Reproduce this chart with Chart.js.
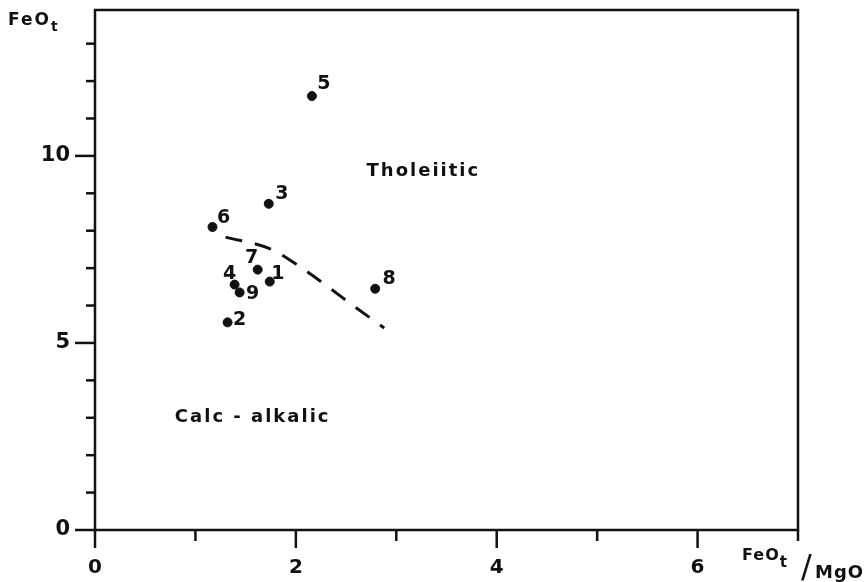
<!DOCTYPE html>
<html lang="en">
<head>
    <meta charset="UTF-8">
    <title>FeOt vs FeOt/MgO</title>
    <script src="https://cdn.jsdelivr.net/npm/chart.js@4/dist/chart.umd.min.js"></script>
    <style>
        body {margin: 0; background: white;}
        canvas {display: block;}
    </style>
</head>
<body>
<canvas id="chart" width="868" height="582"></canvas>
<script>

    // samples
    const sampleIds = ['1', '2', '3', '4', '5', '6', '7', '8', '9'];
    const feoMgoRatio = [1.74, 1.32, 1.73, 1.39, 2.16, 1.17, 1.62, 2.79, 1.44];
    const feoTotal = [6.64, 5.55, 8.72, 6.56, 11.6, 8.1, 6.96, 6.45, 6.35];

    // tholeiitic / calc-alkalic divide
    const boundaryX = [1.30, 1.75, 2.05, 2.33, 2.56, 2.88];
    const boundaryY = [7.83, 7.51, 7.02, 6.48, 6.02, 5.40];

    const xTickLabels = [0, 2, 4, 6];
    const yTickLabels = [0, 5, 10];

    const fieldNames = ['Tholeiitic', 'Calc - alkalic'];
    const fieldX = [3.27, 1.57];
    const fieldY = [9.6, 3.0];

    // where each sample number sits relative to its dot (px)
    const labelOffsets = {
        '1': [8, -8], '2': [12, -2], '3': [13, -10], '4': [-5, -11], '5': [12, -12],
        '6': [11, -9], '7': [-6, -12], '8': [14, -10], '9': [13, 2]
    };

    const FONT = '"DejaVu Sans", sans-serif';
    const INK = '#111';

    const annotate = {
        id: 'annotate',
        afterDraw(chart) {
            const {ctx, chartArea: a, scales: {x, y}} = chart;
            ctx.save();
            ctx.strokeStyle = INK;
            ctx.fillStyle = INK;

            // frame
            ctx.lineWidth = 2.5;
            ctx.strokeRect(a.left, a.top, a.right - a.left, a.bottom - a.top);

            // tick marks
            for (let v = 0; v <= 7; v++) {
                const px = x.getPixelForValue(v);
                const len = xTickLabels.includes(v) ? 18 : 11;
                ctx.beginPath();
                ctx.moveTo(px, a.bottom);
                ctx.lineTo(px, a.bottom + len);
                ctx.stroke();
            }
            for (let v = 0; v <= 13; v++) {
                const py = y.getPixelForValue(v);
                const len = yTickLabels.includes(v) ? 20 : 9;
                ctx.beginPath();
                ctx.moveTo(a.left - len, py);
                ctx.lineTo(a.left, py);
                ctx.stroke();
            }

            // sample numbers
            ctx.font = 'bold 19px ' + FONT;
            ctx.textAlign = 'center';
            ctx.textBaseline = 'middle';
            sampleIds.forEach((id, i) => {
                const off = labelOffsets[id];
                ctx.fillText(id, x.getPixelForValue(feoMgoRatio[i]) + off[0],
                    y.getPixelForValue(feoTotal[i]) + off[1]);
            });

            // field names
            ctx.font = 'bold 18px ' + FONT;
            ctx.letterSpacing = '2px';
            fieldNames.forEach((name, i) => {
                ctx.fillText(name, x.getPixelForValue(fieldX[i]), y.getPixelForValue(fieldY[i]));
            });

            // axis titles
            ctx.textAlign = 'left';
            ctx.textBaseline = 'alphabetic';
            ctx.font = 'bold 17px ' + FONT;
            ctx.fillText('FeO', 8, 25);
            let w = ctx.measureText('FeO').width;
            ctx.font = 'bold 14px ' + FONT;
            ctx.fillText('t', 8 + w, 31);
            ctx.letterSpacing = '1px';

            ctx.font = 'bold 16px ' + FONT;
            ctx.fillText('FeO', 742, 560);
            w = ctx.measureText('FeO').width;
            ctx.font = 'bold 15px ' + FONT;
            ctx.fillText('t', 742 + w, 567);
            ctx.letterSpacing = '0px';
            ctx.font = '32px ' + FONT;
            ctx.fillText('/', 801, 577);
            ctx.letterSpacing = '1px';
            ctx.font = 'bold 18px ' + FONT;
            ctx.fillText('MgO', 815, 578);
            ctx.restore();
        }
    };

    const chart = new Chart('chart', {
        type: 'scatter',
        data: {
            datasets: [
                {
                    label: 'Samples',
                    data: feoMgoRatio.map((v, i) => ({x: v, y: feoTotal[i]})),
                    backgroundColor: INK,
                    borderColor: INK,
                    pointRadius: 4.5,
                },
                {
                    label: 'Boundary',
                    data: boundaryX.map((v, i) => ({x: v, y: boundaryY[i]})),
                    showLine: true,
                    borderColor: INK,
                    borderWidth: 3,
                    borderDash: [17, 13],
                    pointRadius: 0,
                    cubicInterpolationMode: 'monotone',
                }
            ]
        },
        options: {
            responsive: false,
            animation: false,
            events: [],
            layout: {padding: {top: 10, right: 70, left: 0, bottom: 0}},
            plugins: {legend: {display: false}, tooltip: {enabled: false}},
            scales: {
                x: {
                    type: 'linear',
                    min: 0,
                    max: 7,
                    grid: {display: false},
                    border: {display: false},
                    afterFit: s => {
                        s.height = 52;
                        s.paddingLeft = 0;
                        s.paddingRight = 0;
                    },
                    ticks: {
                        stepSize: 1,
                        padding: 18,
                        color: INK,
                        font: {family: FONT, size: 20, weight: 'bold'},
                        maxRotation: 0,
                        callback: v => xTickLabels.includes(v) ? String(v) : ''
                    }
                },
                y: {
                    min: 0,
                    max: 13.9,
                    grid: {display: false},
                    border: {display: false},
                    afterFit: s => {
                        s.width = 95;
                        s.paddingTop = 0;
                        s.paddingBottom = 0;
                    },
                    ticks: {
                        stepSize: 1,
                        padding: 17,
                        color: INK,
                        font: {family: FONT, size: 21, weight: 'bold'},
                        callback: v => yTickLabels.includes(v) ? String(v) : ''
                    }
                }
            }
        },
        plugins: [annotate]
    });

</script>
</body>
</html>
